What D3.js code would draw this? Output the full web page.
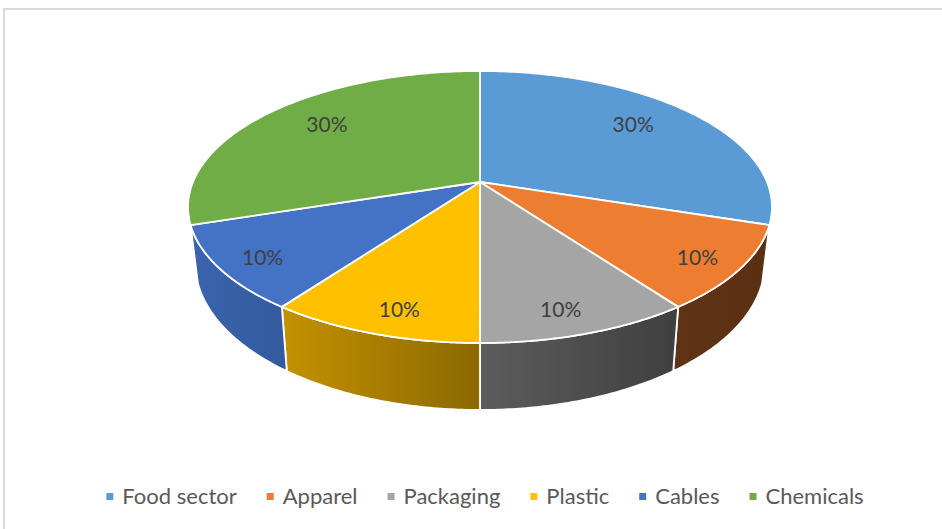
<!DOCTYPE html>
<html>
<head>
<meta charset="utf-8">
<script src="https://cdn.jsdelivr.net/npm/d3@7"></script>
<style>
  html, body { margin: 0; padding: 0; background: #fff; }
  svg { display: block; }
</style>
</head>
<body>
<svg id="chart" width="942" height="529"></svg>
<script>
// ---- data ----
const categories = ["Food sector", "Apparel", "Packaging", "Plastic", "Cables", "Chemicals"];
const values = [30, 10, 10, 10, 10, 30];

// ---- style ----
const topColors = ["#5B9BD5", "#ED7D31", "#A5A5A5", "#FFC000", "#4472C4", "#70AD47"];
const sideColors = [
  ["#41719C", "#355d80"],
  ["#603315", "#5a2f12"],
  ["#5c5c5c", "#3f3f3f"],
  ["#c49200", "#8b6800"],
  ["#3b64ad", "#335a9e"],
  ["#507e33", "#43692a"]
];

const W = 942, H = 529;
const svg = d3.select("#chart");

// chart border
svg.append("rect")
  .attr("x", 4).attr("y", 9)
  .attr("width", 980).attr("height", 600)
  .attr("fill", "#fff")
  .attr("stroke", "#d9d9d9").attr("stroke-width", 2);

// ---- 3D perspective geometry ----
const cx = 480, cy = 182;      // projected pie centre
const A = 287, B = 131.4;      // radii before perspective
const k = 0.1838;              // perspective strength
const depth = 54.7;            // thickness
const bottomScale = 0.975;     // convergence of vertical edges
const sideStart = 0.6 * Math.PI, sideEnd = 1.4 * Math.PI;

function proj(theta, r, bottom) {
  const u = r * Math.sin(theta), v = -r * Math.cos(theta);
  const d = 1 - k * v;
  let x = cx + A * u / d, y = cy + B * v / d;
  if (bottom) { x = cx + (x - cx) * bottomScale; y += depth / d; }
  return [x, y];
}

const pie = d3.pie().sort(null).value(d => d).startAngle(0).endAngle(2 * Math.PI);
const arcs = pie(values);
const total = d3.sum(values);
const fmt = d3.format(".0%");

const defs = svg.append("defs");
const line = d3.line();

function arcPoints(a0, a1, bottom, n) {
  const pts = [];
  for (let i = 0; i <= n; i++) pts.push(proj(a0 + (a1 - a0) * i / n, 1, bottom));
  return pts;
}

// sides
const sideG = svg.append("g");
arcs.forEach((a, i) => {
  const s0 = Math.max(a.startAngle, sideStart), s1 = Math.min(a.endAngle, sideEnd);
  if (s1 <= s0 + 1e-6) return;
  const gid = "side" + i;
  const g = defs.append("linearGradient").attr("id", gid)
    .attr("x1", 0).attr("x2", 1).attr("y1", 0).attr("y2", 0);
  g.append("stop").attr("offset", 0).attr("stop-color", sideColors[i][0]);
  g.append("stop").attr("offset", 1).attr("stop-color", sideColors[i][1]);
  const top = arcPoints(s0, s1, false, 60);
  const bot = arcPoints(s0, s1, true, 60).reverse();
  sideG.append("path")
    .attr("d", line(top.concat(bot)) + "Z")
    .attr("fill", `url(#${gid})`)
    .attr("stroke", "#fff").attr("stroke-width", 1.8).attr("stroke-linejoin", "round");
});

// top faces
const topG = svg.append("g");
arcs.forEach((a, i) => {
  const pts = [[cx, cy]].concat(arcPoints(a.startAngle, a.endAngle, false, 120));
  topG.append("path")
    .attr("d", line(pts) + "Z")
    .attr("fill", topColors[i])
    .attr("stroke", "#fff").attr("stroke-width", 1.8).attr("stroke-linejoin", "round");
});

// labels
const labelG = svg.append("g");
const deg = Math.PI / 180;
arcs.forEach((a, i) => {
  const mid = (a.startAngle + a.endAngle) / 2;
  const frac = values[i] / total;
  const big = frac >= 0.25;
  const r = big ? 0.75 : 0.86;
  const th = big ? mid - 3.5 * deg * Math.sin(2 * mid) : mid - 2 * deg * Math.cos(mid) * Math.sign(Math.sin(mid));
  const [x, y] = proj(th, r, false);
  labelG.append("text")
    .attr("x", x).attr("y", y).attr("dy", "0.35em")
    .attr("text-anchor", "middle")
    .style("font-family", "Lato, 'Open Sans', sans-serif")
    .style("font-size", "21px")
    .attr("fill", "#404040")
    .text(fmt(frac));
});

// legend
const legend = svg.append("g");
const items = categories.map((c, i) => {
  const g = legend.append("g");
  g.append("rect").attr("width", 7).attr("height", 7).attr("y", -11).attr("fill", topColors[i]);
  const t = g.append("text").attr("x", 16).attr("y", 0)
    .style("font-family", "Lato, 'Open Sans', sans-serif")
    .style("font-size", "22px")
    .attr("fill", "#595959")
    .text(c);
  return { g, w: 16 + t.node().getComputedTextLength() };
});
const gap = 30;
const totalW = d3.sum(items, d => d.w) + gap * (items.length - 1);
let lx = 485 - totalW / 2;
items.forEach(it => {
  it.g.attr("transform", `translate(${lx},504)`);
  lx += it.w + gap;
});
</script>
</body>
</html>
